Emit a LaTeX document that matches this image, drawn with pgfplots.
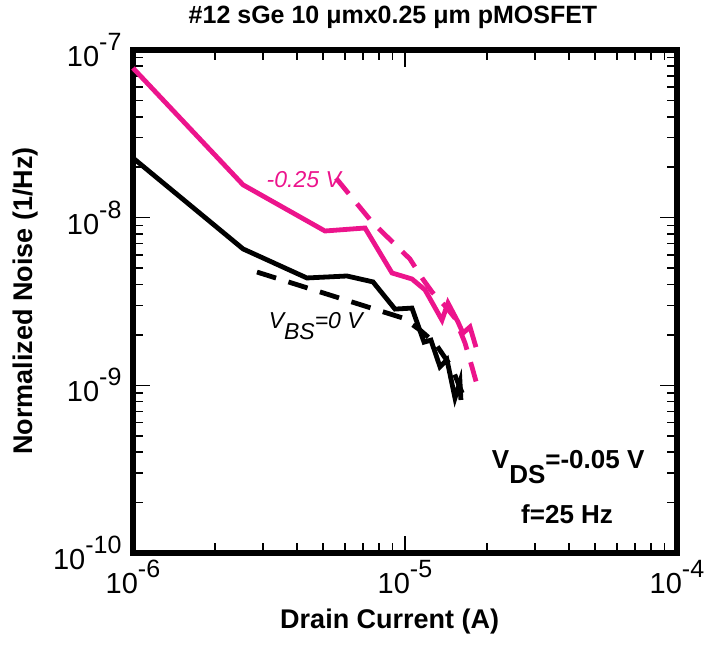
\documentclass[border=0pt]{standalone}
\usepackage{pgfplots}
\pgfplotsset{compat=1.18}
\usepackage{fontspec}
\setmainfont{Liberation Sans}
\definecolor{mypink}{RGB}{236,20,140}
\newcommand{\tl}[1]{10\raisebox{0.55em}{\fontsize{25bp}{25bp}\selectfont #1}}
\begin{document}
\begin{tikzpicture}
\path[use as bounding box] (-133bp,-92bp) rectangle (574bp,553bp);
\begin{axis}[
 scale only axis, width=544bp, height=503bp,
 xmode=log, ymode=log,
 xmin=1e-6, xmax=1e-4, ymin=1e-10, ymax=1e-7,
 axis line style={line width=6bp},
 tick align=inside,
 xtick pos=both, ytick pos=both,
 xtick={1e-6,1e-5,1e-4},
 xticklabels={\tl{-6},\tl{-5},\tl{-4}},
 minor xtick={2e-6,3e-6,4e-6,5e-6,6e-6,7e-6,8e-6,9e-6,2e-5,3e-5,4e-5,5e-5,6e-5,7e-5,8e-5,9e-5},
 ytick={1e-10,1e-9,1e-8,1e-7},
 yticklabels={\tl{-10},\tl{-9},\tl{-8},\tl{-7}},
 minor ytick={2e-10,3e-10,4e-10,5e-10,6e-10,7e-10,8e-10,9e-10,2e-9,3e-9,4e-9,5e-9,6e-9,7e-9,8e-9,9e-9,2e-8,3e-8,4e-8,5e-8,6e-8,7e-8,8e-8,9e-8},
 every tick/.style={black, line width=1.6bp},
 major tick length=17bp, minor tick length=10bp,
 xtick style={black, line width=1.8bp},
 minor x tick style={black, line width=1.8bp},
 tick label style={font=\fontsize{29bp}{29bp}\selectfont},
 xticklabel style={yshift=-4bp},
 yticklabel style={xshift=-8bp},
 xlabel={Drain Current (A)},
 ylabel={Normalized Noise (1/Hz)},
 label style={font=\bfseries\fontsize{27bp}{27bp}\selectfont},
 xlabel style={at={(axis description cs:0.472,-0.137)}, anchor=center},
 ylabel style={at={(axis description cs:-0.197,0.501)}, anchor=center},
 clip=false,
]
% pink solid (-0.25 V)
\addplot[mypink, line width=4.8bp] coordinates {
(1e-6,7.81e-8) (2.54e-6,1.57e-8) (5.08e-6,8.33e-9) (7.13e-6,8.68e-9)
(8.96e-6,4.68e-9) (1.061e-5,4.31e-9) (1.185e-5,3.71e-9) (1.368e-5,2.45e-9)
(1.439e-5,3.10e-9) (1.566e-5,2.39e-9) (1.634e-5,2.05e-9) (1.734e-5,2.23e-9)
(1.824e-5,1.69e-9)};
% pink dashed
\addplot[mypink, line width=4.8bp, dash pattern=on 20bp off 13bp] coordinates {
(5.58e-6,1.72e-8) (7.56e-6,9.43e-9) (1.043e-5,5.67e-9) (1.155e-5,4.37e-9)
(1.257e-5,3.61e-9) (1.403e-5,2.98e-9) (1.527e-5,2.52e-9) (1.662e-5,1.79e-9)
(1.763e-5,1.29e-9) (1.839e-5,1.01e-9)};
% black solid (0 V)
\addplot[black, line width=4.8bp] coordinates {
(1e-6,2.27e-8) (2.54e-6,6.51e-9) (4.36e-6,4.37e-9) (6.12e-6,4.49e-9)
(7.63e-6,4.14e-9) (9.19e-6,2.85e-9) (1.061e-5,2.89e-9) (1.175e-5,1.81e-9)
(1.246e-5,1.86e-9) (1.345e-5,1.29e-9) (1.427e-5,1.42e-9) (1.527e-5,8.41e-10)
(1.593e-5,1.05e-9) (1.606e-5,8.18e-10)};
% black dashed
\addplot[black, line width=4.8bp, dash pattern=on 20bp off 13bp] coordinates {
(2.857e-6,4.74e-9) (9.83e-6,2.52e-9) (1.135e-5,2.14e-9) (1.289e-5,1.79e-9)
(1.489e-5,1.27e-9) (1.634e-5,8.77e-10)};
\node[mypink, font=\itshape\fontsize{23bp}{23bp}\selectfont] at (axis description cs:0.314,0.742) {-0.25 V};
\node[black, font=\itshape\fontsize{23bp}{23bp}\selectfont] at (axis description cs:0.336,0.451) {V\raisebox{-0.45em}{BS}=0 V};
\node[font=\bfseries\fontsize{26bp}{26bp}\selectfont] at (axis description cs:0.80,0.171) {V\raisebox{-0.55em}{DS}=-0.05 V};
\node[font=\bfseries\fontsize{26bp}{26bp}\selectfont] at (axis description cs:0.798,0.0775) {f=25 Hz};
\node[font=\bfseries\fontsize{25bp}{25bp}\selectfont] at (axis description cs:0.478,1.064) {\#12 sGe 10 μmx0.25 μm pMOSFET};
\end{axis}
\end{tikzpicture}
\end{document}
